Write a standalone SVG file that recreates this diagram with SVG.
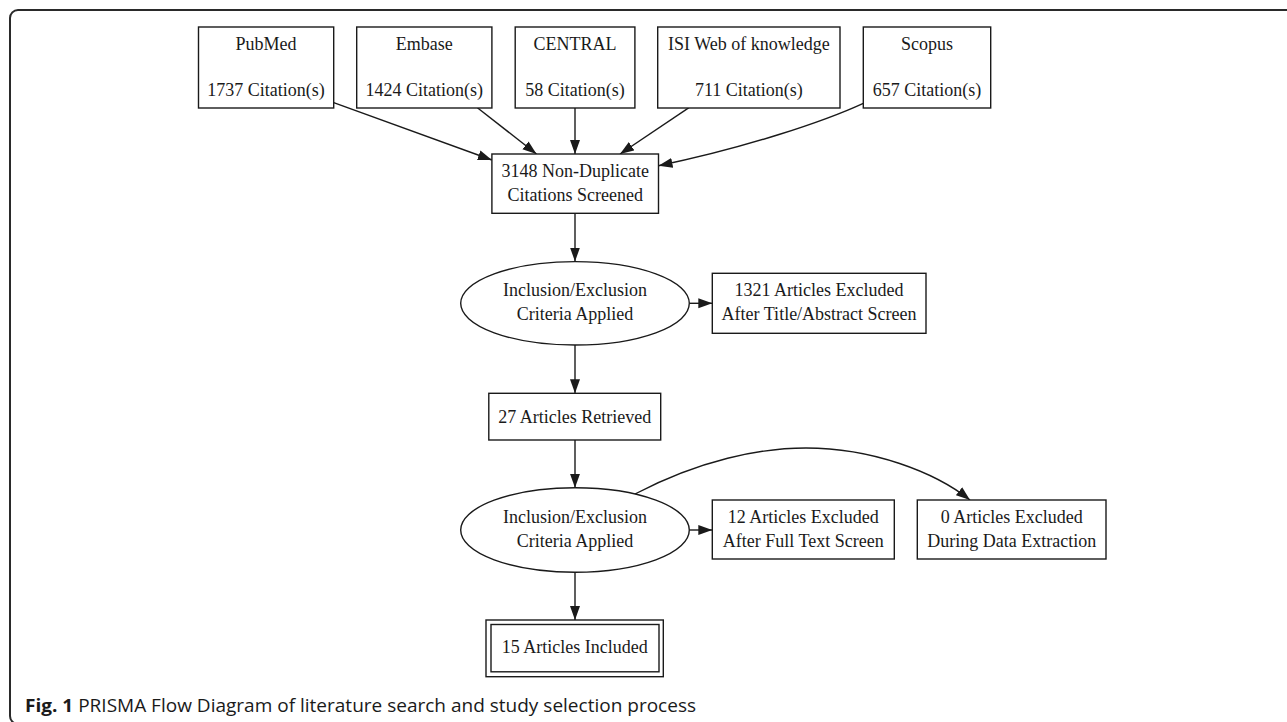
<svg xmlns="http://www.w3.org/2000/svg" width="1287" height="722" viewBox="0 0 1287 722">
<style>
.n{fill:#fff;stroke:#1a1a1a;stroke-width:1.4}
.t{font-family:"Liberation Serif","Times New Roman",serif;font-size:18px;fill:#1a1a1a;text-anchor:middle}
.e{fill:none;stroke:#1a1a1a;stroke-width:1.4}
.cap{font-family:"Open Sans","Noto Sans",sans-serif;font-size:18px;fill:#1a1a1a}
</style>
<defs>
<marker id="ah" markerUnits="userSpaceOnUse" markerWidth="15" markerHeight="12" viewBox="0 0 15 12" refX="14" refY="6" orient="auto">
<path d="M0,1 L14,6 L0,11 Z" fill="#1a1a1a"/>
</marker>
</defs>
<rect width="1287" height="722" fill="#fff"/>
<path d="M1295,10 H18 A8,8 0 0 0 10,18 V716 A8,8 0 0 0 18,724 H1295" fill="none" stroke="#2a2a2a" stroke-width="2"/>

<g id="connectors">
<path class="e" d="M333.7,102.7 L491.9,160" marker-end="url(#ah)"/>
<path class="e" d="M477.4,107.7 L536.5,154" marker-end="url(#ah)"/>
<path class="e" d="M575,108 L575,154" marker-end="url(#ah)"/>
<path class="e" d="M689,107.7 L620,154" marker-end="url(#ah)"/>
<path class="e" d="M863.3,103.3 C825,121 745,148 658.5,165.7" marker-end="url(#ah)"/>
<path class="e" d="M575,213.5 L575,261.5" marker-end="url(#ah)"/>
<path class="e" d="M689.3,303.3 L712.3,303.3" marker-end="url(#ah)"/>
<path class="e" d="M575,345 L575,393.3" marker-end="url(#ah)"/>
<path class="e" d="M575,440 L575,487.8" marker-end="url(#ah)"/>
<path class="e" d="M689.3,530 L712.3,530" marker-end="url(#ah)"/>
<path class="e" d="M635,494 C700,460 760,448 806,448 C872,448 935,472 970,500" marker-end="url(#ah)"/>
<path class="e" d="M575,572 L575,620" marker-end="url(#ah)"/>
</g>

<g id="pubmed">
<rect class="n" x="198.5" y="27" width="135.2" height="81"/>
<text class="t" x="266.1" y="49.5">PubMed</text>
<text class="t" x="266.1" y="95.5">1737 Citation(s)</text>
</g>
<g id="embase">
<rect class="n" x="356.7" y="27" width="135.2" height="81"/>
<text class="t" x="424.3" y="49.5">Embase</text>
<text class="t" x="424.3" y="95.5">1424 Citation(s)</text>
</g>
<g id="central">
<rect class="n" x="515.2" y="27" width="119.7" height="81"/>
<text class="t" x="575" y="49.5">CENTRAL</text>
<text class="t" x="575" y="95.5">58 Citation(s)</text>
</g>
<g id="isi">
<rect class="n" x="657.7" y="27" width="182.3" height="81"/>
<text class="t" x="748.9" y="49.5">ISI Web of knowledge</text>
<text class="t" x="748.9" y="95.5">711 Citation(s)</text>
</g>
<g id="scopus">
<rect class="n" x="863.3" y="27" width="127.4" height="81"/>
<text class="t" x="927" y="49.5">Scopus</text>
<text class="t" x="927" y="95.5">657 Citation(s)</text>
</g>
<g id="nondup">
<rect class="n" x="491.9" y="154" width="166.6" height="59.3"/>
<text class="t" x="575.2" y="177">3148 Non-Duplicate</text>
<text class="t" x="575.2" y="201">Citations Screened</text>
</g>
<g id="criteria1">
<ellipse class="n" cx="575" cy="303.3" rx="114.3" ry="41.7"/>
<text class="t" x="575" y="296">Inclusion/Exclusion</text>
<text class="t" x="575" y="320">Criteria Applied</text>
</g>
<g id="excluded1321">
<rect class="n" x="712.3" y="273.3" width="213.7" height="60"/>
<text class="t" x="819.1" y="296">1321 Articles Excluded</text>
<text class="t" x="819.1" y="320">After Title/Abstract Screen</text>
</g>
<g id="retrieved27">
<rect class="n" x="488.8" y="393.3" width="171.9" height="46.7"/>
<text class="t" x="574.8" y="423">27 Articles Retrieved</text>
</g>
<g id="criteria2">
<ellipse class="n" cx="575" cy="530" rx="114.3" ry="42.2"/>
<text class="t" x="575" y="523">Inclusion/Exclusion</text>
<text class="t" x="575" y="547">Criteria Applied</text>
</g>
<g id="excluded12">
<rect class="n" x="712.3" y="500" width="182" height="59"/>
<text class="t" x="803.3" y="522.5">12 Articles Excluded</text>
<text class="t" x="803.3" y="546.5">After Full Text Screen</text>
</g>
<g id="excluded0">
<rect class="n" x="917.3" y="500" width="188.7" height="59"/>
<text class="t" x="1011.7" y="522.5">0 Articles Excluded</text>
<text class="t" x="1011.7" y="546.5">During Data Extraction</text>
</g>
<g id="included15">
<rect class="n" x="486" y="620" width="177.3" height="56.7"/>
<rect class="n" x="491" y="624.5" width="168" height="47.3" fill="none"/>
<text class="t" x="574.7" y="653">15 Articles Included</text>
</g>

<text class="cap" x="25" y="712" textLength="671" lengthAdjust="spacingAndGlyphs"><tspan font-weight="bold">Fig. 1</tspan> PRISMA Flow Diagram of literature search and study selection process</text>
</svg>
